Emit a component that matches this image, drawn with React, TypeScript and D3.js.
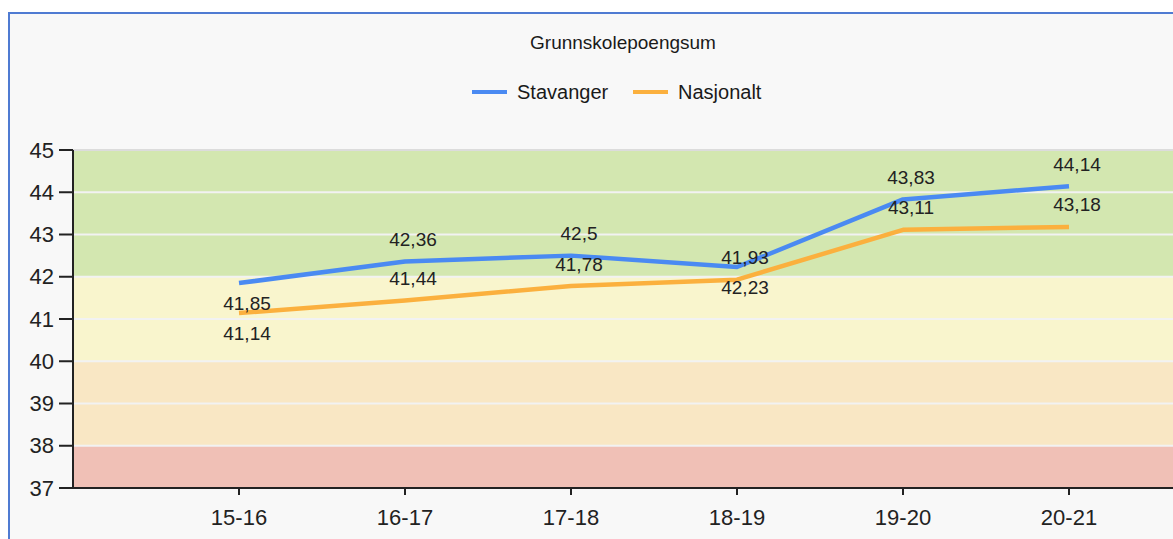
import * as d3 from "d3";

const seasons = ["15-16", "16-17", "17-18", "18-19", "19-20", "20-21"];
const stavanger = [41.85, 42.36, 42.5, 42.23, 43.83, 44.14];
const nasjonalt = [41.14, 41.44, 41.78, 41.93, 43.11, 43.18];
const yTicks = [37, 38, 39, 40, 41, 42, 43, 44, 45];
// coloured score bands [from, to, colour]
const bands: [number, number, string][] = [
  [42, 45, "#d3e7b0"],
  [40, 42, "#f9f5cd"],
  [38, 40, "#f9e7c4"],
  [37, 38, "#f0c0b6"],
];
// where the data label sits relative to its point
const stavangerLabelPos = ["below", "above", "above", "below", "above", "above"];
const nasjonaltLabelPos = ["below", "above", "above", "above", "above", "above"];

const W = 1173;
const H = 539;
const FONT = "'Liberation Sans', Arial, sans-serif";

export default function App() {
  const x = d3.scaleLinear().domain([-1, 6]).range([73, 1235]);
  const y = d3.scaleLinear().domain([37, 45]).range([488, 150]);
  const line = d3
    .line<number>()
    .x((_, i) => x(i))
    .y((d) => y(d));

  const series = [
    { name: "Stavanger", values: stavanger, color: "#4a8af2", pos: stavangerLabelPos },
    { name: "Nasjonalt", values: nasjonalt, color: "#fbb03e", pos: nasjonaltLabelPos },
  ];

  const fmt = (v: number) => String(v).replace(".", ",");

  return (
    <svg
      width={W}
      height={H}
      style={{ position: "fixed", left: 0, top: 0, background: "#fff" }}
      fontFamily={FONT}
    >
      <rect x={9} y={13} width={W + 20} height={H + 20} fill="#f8f8f8" stroke="#4f7bd2" strokeWidth={2} />

      <text x={623} y={42} textAnchor="middle" dominantBaseline="central" fontSize={19} fill="#1a1a1a">
        Grunnskolepoengsum
      </text>

      {/* legend */}
      <g>
        <line x1={472} x2={507} y1={92} y2={92} stroke={series[0].color} strokeWidth={4} />
        <text x={517} y={92} dominantBaseline="central" fontSize={20} fill="#1a1a1a">Stavanger</text>
        <line x1={633} x2={668} y1={92} y2={92} stroke={series[1].color} strokeWidth={4} />
        <text x={678} y={92} dominantBaseline="central" fontSize={20} fill="#1a1a1a">Nasjonalt</text>
      </g>

      {/* bands */}
      {bands.map(([a, b, c]) => (
        <rect key={a} x={x.range()[0]} width={x.range()[1] - x.range()[0]} y={y(b)} height={y(a) - y(b)} fill={c} />
      ))}
      {/* grid */}
      {yTicks.slice(1).map((t) => (
        <line key={t} x1={x.range()[0]} x2={x.range()[1]} y1={y(t)} y2={y(t)} stroke={t === 45 ? "#dcdcdc" : "#f2f2f2"} strokeWidth={2} />
      ))}

      {/* y axis */}
      <line x1={73} x2={73} y1={y(45)} y2={y(37) + 1} stroke="#222" strokeWidth={2} />
      {yTicks.map((t) => (
        <g key={t}>
          <line x1={59} x2={73} y1={y(t)} y2={y(t)} stroke="#222" strokeWidth={2} />
          <text x={54} y={y(t)} textAnchor="end" dominantBaseline="central" fontSize={22} fill="#222">
            {t}
          </text>
        </g>
      ))}

      {/* x axis */}
      <line x1={72} x2={W} y1={y(37)} y2={y(37)} stroke="#222" strokeWidth={2} />
      {seasons.map((s, i) => (
        <g key={s}>
          <line x1={x(i)} x2={x(i)} y1={y(37)} y2={y(37) + 7} stroke="#222" strokeWidth={2} />
          <text x={x(i)} y={517} textAnchor="middle" dominantBaseline="central" fontSize={22} fill="#222">
            {s}
          </text>
        </g>
      ))}

      {/* lines */}
      {series.map((s) => (
        <path key={s.name} d={line(s.values) ?? ""} fill="none" stroke={s.color} strokeWidth={4.5} strokeLinejoin="round" />
      ))}

      {/* data labels */}
      {series.map((s) =>
        s.values.map((v, i) => (
          <text
            key={s.name + i}
            x={x(i) + 8}
            y={y(v) + (s.pos[i] === "above" ? -22 : 20)}
            textAnchor="middle"
            dominantBaseline="central"
            fontSize={19}
            fill="#222"
          >
            {fmt(v)}
          </text>
        ))
      )}
    </svg>
  );
}
